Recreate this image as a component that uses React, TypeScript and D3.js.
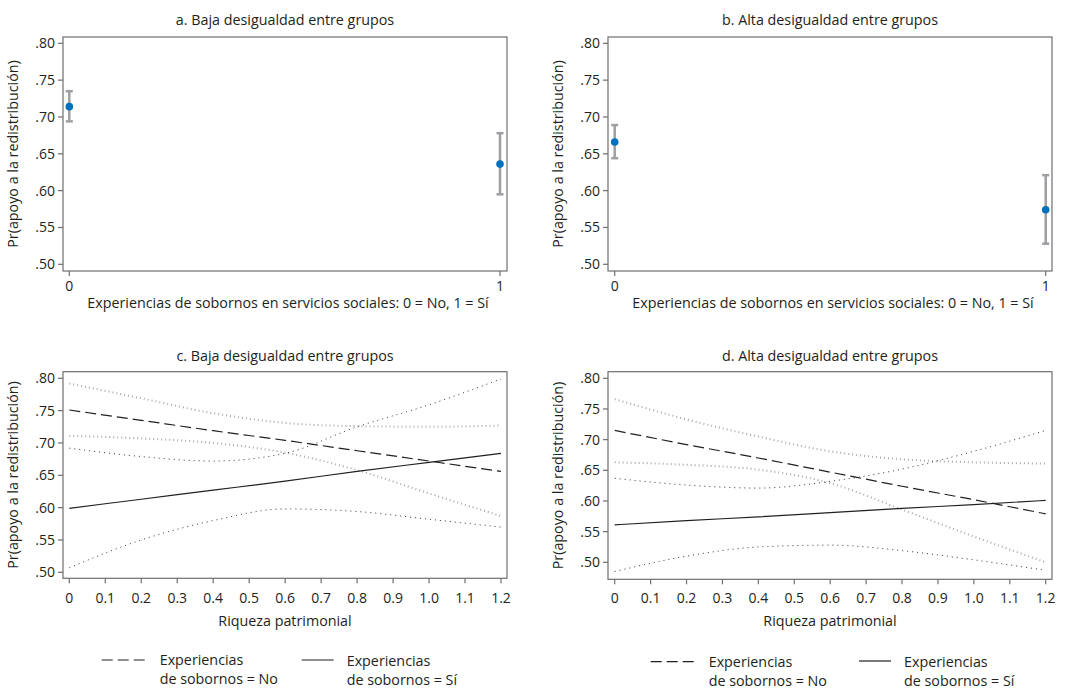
import React, { useEffect, useRef } from "react";
import * as d3 from "d3";

// panels a / b: point estimates with confidence intervals
const bribeCats = [0, 1];
const aMean = [0.714, 0.636];
const aLow = [0.694, 0.595];
const aHigh = [0.735, 0.678];
const bMean = [0.666, 0.574];
const bLow = [0.644, 0.528];
const bHigh = [0.689, 0.621];

// panels c / d: predicted lines over wealth
const wealth = [0, 0.2, 0.4, 0.6, 0.8, 1.0, 1.2];
const wealthTicks = [0, 0.1, 0.2, 0.3, 0.4, 0.5, 0.6, 0.7, 0.8, 0.9, 1.0, 1.1, 1.2];
const cNoMean = [0.751, 0.735, 0.719, 0.704, 0.688, 0.672, 0.656];
const cSiMean = [0.599, 0.613, 0.627, 0.641, 0.656, 0.670, 0.684];
const cNoUpper = [0.792, 0.769, 0.746, 0.731, 0.726, 0.725, 0.727];
const cNoLower = [0.711, 0.707, 0.700, 0.685, 0.658, 0.622, 0.587];
const cSiUpper = [0.692, 0.679, 0.672, 0.684, 0.725, 0.759, 0.799];
const cSiLower = [0.507, 0.550, 0.580, 0.598, 0.594, 0.582, 0.570];
const dNoMean = [0.715, 0.692, 0.670, 0.647, 0.624, 0.602, 0.579];
const dSiMean = [0.561, 0.568, 0.574, 0.581, 0.588, 0.594, 0.601];
const dNoUpper = [0.766, 0.733, 0.705, 0.681, 0.668, 0.663, 0.661];
const dNoLower = [0.663, 0.659, 0.651, 0.629, 0.586, 0.542, 0.500];
const dSiUpper = [0.637, 0.626, 0.621, 0.632, 0.652, 0.681, 0.715];
const dSiLower = [0.485, 0.510, 0.525, 0.528, 0.519, 0.504, 0.487];

const yTicks = [0.5, 0.55, 0.6, 0.65, 0.7, 0.75, 0.8];
const yTitle = "Pr(apoyo a la redistribución)";
const FONT = "'Open Sans', sans-serif";
const TXT = "#231f20";
const FRAME = "#6d6e71";
const FS = 14.3; // titles and labels
const TS = 14; // tick labels

type Frame = { x0: number; x1: number; y0: number; y1: number };

function drawFrame(g: any, f: Frame, title: string, titleY: number, y: any, yAxisX: number) {
  g.append("rect")
    .attr("x", f.x0).attr("y", f.y0)
    .attr("width", f.x1 - f.x0).attr("height", f.y1 - f.y0)
    .attr("fill", "none").attr("stroke", FRAME).attr("stroke-width", 1.2);
  g.append("text")
    .attr("x", (f.x0 + f.x1) / 2).attr("y", titleY)
    .attr("text-anchor", "middle").attr("font-size", FS).text(title);
  yTicks.forEach((t) => {
    g.append("line")
      .attr("x1", f.x0 - 5).attr("x2", f.x0)
      .attr("y1", y(t)).attr("y2", y(t))
      .attr("stroke", FRAME).attr("stroke-width", 1.2);
    g.append("text")
      .attr("x", f.x0 - 8).attr("y", y(t) + 5)
      .attr("text-anchor", "end").attr("font-size", TS)
      .text(d3.format(".2f")(t).replace(/^0/, ""));
  });
  g.append("text")
    .attr("transform", `translate(${yAxisX},${(f.y0 + f.y1) / 2}) rotate(-90)`)
    .attr("text-anchor", "middle").attr("font-size", FS).text(yTitle);
}

function xTicks(g: any, f: Frame, x: any, ticks: number[], fmt: (v: number) => string, labelY: number) {
  ticks.forEach((t) => {
    g.append("line")
      .attr("x1", x(t)).attr("x2", x(t))
      .attr("y1", f.y1).attr("y2", f.y1 + 5)
      .attr("stroke", FRAME).attr("stroke-width", 1.2);
    g.append("text")
      .attr("x", x(t)).attr("y", labelY)
      .attr("text-anchor", "middle").attr("font-size", TS).text(fmt(t));
  });
}

function pointPanel(g: any, f: Frame, xr: [number, number], title: string, mean: number[], low: number[], high: number[]) {
  const x = d3.scaleLinear().domain([0, 1]).range(xr);
  const y = d3.scaleLinear().domain([0.5, 0.8]).range([264.3, 43.3]);
  drawFrame(g, f, title, 25, y, f.x0 - 45);
  xTicks(g, f, x, bribeCats, (v) => String(v), 291);
  g.append("text")
    .attr("x", (f.x0 + f.x1) / 2 + 3).attr("y", 308)
    .attr("text-anchor", "middle").attr("font-size", FS)
    .text("Experiencias de sobornos en servicios sociales: 0 = No, 1 = Sí");

  bribeCats.forEach((c, i) => {
    const cx = x(c);
    g.append("line")
      .attr("x1", cx).attr("x2", cx).attr("y1", y(low[i])).attr("y2", y(high[i]))
      .attr("stroke", "#9d9fa2").attr("stroke-width", 2.5);
    [low[i], high[i]].forEach((v) =>
      g.append("line")
        .attr("x1", cx - 3.5).attr("x2", cx + 3.5).attr("y1", y(v)).attr("y2", y(v))
        .attr("stroke", "#9d9fa2").attr("stroke-width", 2.5)
    );
    g.append("circle").attr("cx", cx).attr("cy", y(mean[i])).attr("r", 3.8).attr("fill", "#0071bc");
  });
}

function linePanel(
  g: any, f: Frame, xr: [number, number], yr: [number, number], title: string,
  noMean: number[], siMean: number[], noUp: number[], noLo: number[], siUp: number[], siLo: number[]
) {
  const x = d3.scaleLinear().domain([0, 1.2]).range(xr);
  const y = d3.scaleLinear().domain([0.5, 0.8]).range(yr);
  drawFrame(g, f, title, 361, y, f.x0 - 45);
  xTicks(g, f, x, wealthTicks, (v) => (v === 0 ? "0" : d3.format(".1f")(v)), 603);
  g.append("text")
    .attr("x", (f.x0 + f.x1) / 2).attr("y", 626)
    .attr("text-anchor", "middle").attr("font-size", FS).text("Riqueza patrimonial");

  const line = (vals: number[]) =>
    d3.line<number>().x((_, i) => x(wealth[i])).y((v) => y(v)).curve(d3.curveMonotoneX)(vals);

  [noUp, noLo].forEach((vals) =>
    g.append("path").attr("d", line(vals)).attr("fill", "none")
      .attr("stroke", "#a7a9ac").attr("stroke-width", 2).attr("stroke-dasharray", "1,3")
  );
  [siUp, siLo].forEach((vals) =>
    g.append("path").attr("d", line(vals)).attr("fill", "none")
      .attr("stroke", "#231f20").attr("stroke-width", 0.9).attr("stroke-dasharray", "1,4")
  );
  g.append("path").attr("d", line(noMean)).attr("fill", "none")
    .attr("stroke", "#231f20").attr("stroke-width", 1.2).attr("stroke-dasharray", "11,5");
  g.append("path").attr("d", line(siMean)).attr("fill", "none")
    .attr("stroke", "#231f20").attr("stroke-width", 1.2);
}

function legend(g: any, dashX: number, dashY: number, solidX: number, solidY: number) {
  g.append("line").attr("x1", dashX).attr("x2", dashX + 48).attr("y1", dashY).attr("y2", dashY)
    .attr("stroke", "#231f20").attr("stroke-width", 1.2).attr("stroke-dasharray", "11,5");
  g.append("line").attr("x1", solidX).attr("x2", solidX + 32).attr("y1", solidY).attr("y2", solidY)
    .attr("stroke", "#231f20").attr("stroke-width", 1.2);
  const txt = (tx: number, ty: number, l2: string) => {
    g.append("text").attr("x", tx).attr("y", ty).attr("font-size", FS).text("Experiencias");
    g.append("text").attr("x", tx).attr("y", ty + 19).attr("font-size", FS).text(l2);
  };
  txt(dashX + 58, dashY + 5, "de sobornos = No");
  txt(solidX + 45, solidY + 6, "de sobornos = Sí");
}

export default function App() {
  const ref = useRef<SVGSVGElement>(null);
  useEffect(() => {
    const svg = d3.select(ref.current);
    svg.selectAll("*").remove();
    const g = svg.append("g").attr("font-family", FONT).attr("fill", TXT);

    pointPanel(g, { x0: 63, x1: 507, y0: 37, y1: 271 }, [69.3, 500],
      "a. Baja desigualdad entre grupos", aMean, aLow, aHigh);
    pointPanel(g, { x0: 608, x1: 1052, y0: 37, y1: 271 }, [614.7, 1045.7],
      "b. Alta desigualdad entre grupos", bMean, bLow, bHigh);

    linePanel(g, { x0: 63, x1: 507, y0: 371.7, y1: 578.3 }, [69.3, 501], [572.3, 378.3],
      "c. Baja desigualdad entre grupos", cNoMean, cSiMean, cNoUpper, cNoLower, cSiUpper, cSiLower);
    linePanel(g, { x0: 608, x1: 1052, y0: 371.7, y1: 579.3 }, [614.7, 1045.7], [562.3, 378.3],
      "d. Alta desigualdad entre grupos", dNoMean, dSiMean, dNoUpper, dNoLower, dSiUpper, dSiLower);

    legend(g, 101.7, 660, 301.7, 660);
    legend(g, 650.7, 661.7, 859, 661);
  }, []);

  return (
    <svg ref={ref} width={1074} height={689}
      style={{ position: "absolute", left: 0, top: 0, background: "#fff" }} />
  );
}
